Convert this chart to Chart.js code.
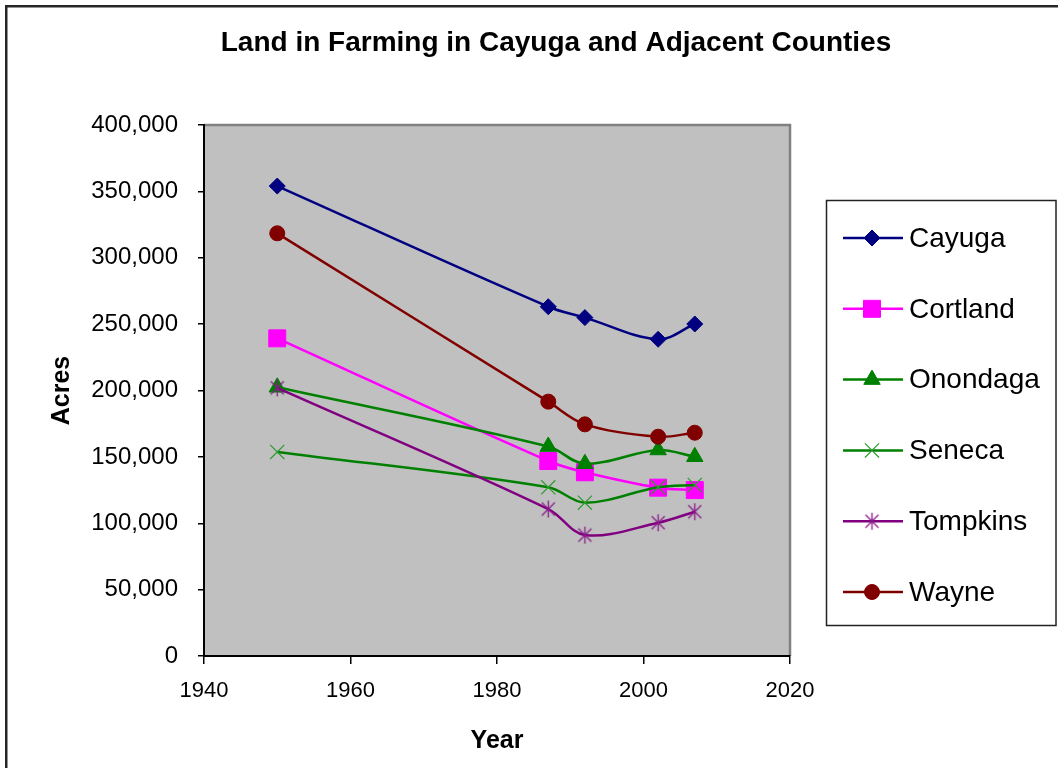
<!DOCTYPE html>
<html>
<head>
<meta charset="utf-8">
<title>Land in Farming in Cayuga and Adjacent Counties</title>
<script src="https://cdn.jsdelivr.net/npm/chart.js@4/dist/chart.umd.min.js"></script>
<style>
  html, body { margin: 0; padding: 0; background: #fff; }
  #wrap { width: 1058px; height: 768px; }
</style>
</head>
<body>
<div id="wrap"><canvas id="chart" width="1058" height="768"></canvas></div>
<script>
// Census years and acres of land in farms for each county
const years = [1950, 1987, 1992, 2002, 2007];
const cayuga    = [354000, 263100, 254900, 238600, 250100];
const cortland  = [239300, 146900, 138400, 126800, 125000];
const onondaga  = [202400, 157800, 144800, 155200, 150100];
const seneca    = [153700, 127100, 115500, 127100, 128800];
const tompkins  = [202000, 110700, 91100, 100400, 108700];
const wayne     = [318400, 191600, 174500, 165200, 168200];

const seriesNames = ['Cayuga', 'Cortland', 'Onondaga', 'Seneca', 'Tompkins', 'Wayne'];
const seriesValues = [cayuga, cortland, onondaga, seneca, tompkins, wayne];

const xTicks = [1940, 1960, 1980, 2000, 2020];
const yTicks = [0, 50000, 100000, 150000, 200000, 250000, 300000, 350000, 400000];

const titleText = 'Land in Farming in Cayuga and Adjacent Counties';
const xTitle = 'Year';
const yTitle = 'Acres';

const FONT = "'Liberation Sans', Arial, sans-serif";

// Asterisk marker (X with a vertical stroke)
function makeStar(color) {
  const c = document.createElement('canvas');
  c.width = 21; c.height = 21;
  const g = c.getContext('2d');
  const m = 10.5;
  g.strokeStyle = color;
  g.lineWidth = 1.3;
  g.beginPath();
  g.moveTo(m - 6.5, m - 6.5); g.lineTo(m + 6.5, m + 6.5);
  g.moveTo(m + 6.5, m - 6.5); g.lineTo(m - 6.5, m + 6.5);
  g.moveTo(m, m - 8.5); g.lineTo(m, m + 8.5);
  g.stroke();
  return c;
}

const styles = [
  { color: '#000080', point: 'rectRot', radius: 8, pBorder: '#000080', pFill: '#000080', pWidth: 1 },
  { color: '#FF00FF', point: 'rect', radius: 12, pBorder: '#FF00FF', pFill: '#FF00FF', pWidth: 1 },
  { color: '#008000', point: 'triangle', radius: 9.5, pBorder: '#008000', pFill: '#008000', pWidth: 1 },
  { color: '#008000', point: 'crossRot', radius: 10, pBorder: '#2f9a2f', pFill: '#2f9a2f', pWidth: 1.2 },
  { color: '#800080', point: makeStar('#8a1a8a'), radius: 10, pBorder: '#800080', pFill: '#800080', pWidth: 1 },
  { color: '#800000', point: 'circle', radius: 7.5, pBorder: '#800000', pFill: '#800000', pWidth: 1 }
];

const datasets = seriesNames.map((name, i) => ({
  label: name,
  data: years.map((yr, j) => ({ x: yr, y: seriesValues[i][j] })),
  borderColor: styles[i].color,
  backgroundColor: styles[i].pFill,
  borderWidth: 2.5,
  tension: 0.35,
  pointStyle: styles[i].point,
  pointRadius: styles[i].radius,
  pointBorderColor: styles[i].pBorder,
  pointBackgroundColor: styles[i].pFill,
  pointBorderWidth: styles[i].pWidth,
  order: seriesNames.length - i
}));

// Gray plot area with a darker frame on top and right, plus outer chart frame
const plotBackground = {
  id: 'plotBackground',
  beforeDraw(chart) {
    const { ctx, chartArea: a } = chart;
    ctx.save();
    ctx.fillStyle = '#fff';
    ctx.fillRect(0, 0, chart.width, chart.height);
    ctx.fillStyle = '#C0C0C0';
    ctx.fillRect(a.left, a.top, a.right - a.left, a.bottom - a.top);
    ctx.strokeStyle = '#808080';
    ctx.lineWidth = 2.5;
    ctx.beginPath();
    ctx.moveTo(a.left, a.top);
    ctx.lineTo(a.right, a.top);
    ctx.lineTo(a.right, a.bottom);
    ctx.stroke();
    // outer frame
    ctx.strokeStyle = '#262626';
    ctx.lineWidth = 2.5;
    ctx.beginPath();
    ctx.moveTo(6.25, chart.height);
    ctx.lineTo(6.25, 6.25);
    ctx.lineTo(chart.width, 6.25);
    ctx.stroke();
    ctx.restore();
  }
};

// Chart title
const chartTitle = {
  id: 'chartTitle',
  afterDraw(chart) {
    const { ctx } = chart;
    ctx.save();
    ctx.fillStyle = '#000';
    ctx.font = 'bold 28px ' + FONT;
    ctx.textAlign = 'center';
    ctx.textBaseline = 'middle';
    ctx.fillText(titleText, 556, 43);
    ctx.restore();
  }
};

// Boxed legend: line sample with marker, then series name
const boxLegend = {
  id: 'boxLegend',
  afterDraw(chart) {
    const { ctx } = chart;
    const box = { left: 826.5, top: 200.5, right: 1056, bottom: 625.5 };
    ctx.save();
    ctx.fillStyle = '#fff';
    ctx.fillRect(box.left, box.top, box.right - box.left, box.bottom - box.top);
    ctx.strokeStyle = '#222';
    ctx.lineWidth = 1.5;
    ctx.strokeRect(box.left, box.top, box.right - box.left, box.bottom - box.top);
    const first = 238, step = 70.8;
    chart.data.datasets.forEach((ds, i) => {
      const y = first + i * step;
      ctx.strokeStyle = ds.borderColor;
      ctx.lineWidth = ds.borderWidth;
      ctx.beginPath();
      ctx.moveTo(843, y);
      ctx.lineTo(903, y);
      ctx.stroke();
      ctx.fillStyle = ds.pointBackgroundColor;
      ctx.strokeStyle = ds.pointBorderColor;
      ctx.lineWidth = ds.pointBorderWidth;
      Chart.helpers.drawPoint(ctx, {
        pointStyle: ds.pointStyle,
        radius: ds.pointRadius,
        rotation: 0,
        borderWidth: ds.pointBorderWidth
      }, 872, y);
      ctx.fillStyle = '#000';
      ctx.font = '28px ' + FONT;
      ctx.textAlign = 'left';
      ctx.textBaseline = 'middle';
      ctx.fillText(ds.label, 909, y + 1);
    });
    ctx.restore();
  }
};

Chart.defaults.color = '#000';

new Chart(document.getElementById('chart'), {
  type: 'line',
  data: { datasets },
  plugins: [plotBackground, chartTitle, boxLegend],
  options: {
    responsive: false,
    animation: false,
    devicePixelRatio: 1,
    layout: { padding: { top: 125, left: 43, right: 268, bottom: 9 } },
    plugins: {
      legend: { display: false },
      title: { display: false },
      tooltip: { enabled: false }
    },
    scales: {
      x: {
        type: 'linear',
        min: 1940,
        max: 2020,
        afterBuildTicks(scale) { scale.ticks = xTicks.map(v => ({ value: v })); },
        afterFit(scale) { scale.height = 103; },
        ticks: {
          font: { family: FONT, size: 22 },
          color: '#000',
          padding: 14,
          maxRotation: 0,
          callback: v => String(v)
        },
        grid: { drawOnChartArea: false, drawTicks: true, tickLength: 8, color: '#000', lineWidth: 1.5 },
        border: { display: true, color: '#000', width: 2 },
        title: {
          display: true,
          text: xTitle,
          font: { family: FONT, size: 25, weight: 'bold' },
          color: '#000',
          padding: { top: 4, bottom: 3 }
        }
      },
      y: {
        type: 'linear',
        min: 0,
        max: 400000,
        afterBuildTicks(scale) { scale.ticks = yTicks.map(v => ({ value: v })); },
        afterFit(scale) { scale.width = 161; },
        ticks: {
          font: { family: FONT, size: 24 },
          color: '#000',
          padding: 20,
          callback: v => v.toLocaleString('en-US')
        },
        grid: { drawOnChartArea: false, drawTicks: true, tickLength: 6, color: '#000', lineWidth: 1.5 },
        border: { display: true, color: '#000', width: 2 },
        title: {
          display: true,
          text: yTitle,
          font: { family: FONT, size: 25, weight: 'bold' },
          color: '#000',
          padding: { top: 4, bottom: 4 }
        }
      }
    }
  }
});
</script>
</body>
</html>
